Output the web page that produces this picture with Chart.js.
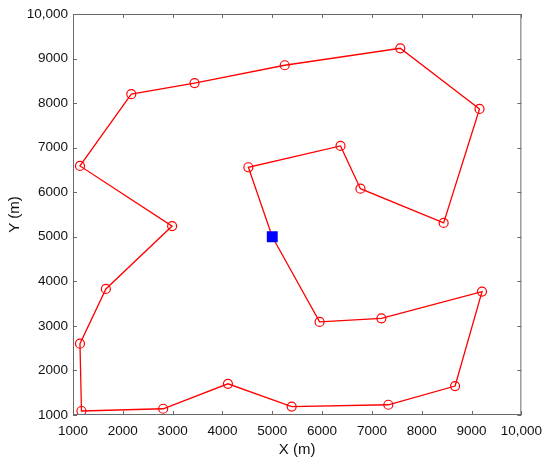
<!DOCTYPE html>
<html>
<head>
<meta charset="utf-8">
<script src="https://cdn.jsdelivr.net/npm/chart.js@4.4.1/dist/chart.umd.min.js"></script>
<style>
  html, body { margin: 0; padding: 0; background: #fff; }
  #wrap { width: 550px; height: 464px; }
</style>
</head>
<body>
<div id="wrap"><canvas id="chart" width="550" height="464"></canvas></div>
<script>
// route: depot -> customers -> back to depot
const depotX = [5000];
const depotY = [5000];

const routeX = [5000, 5950, 7190, 9210, 8670, 7330, 5390, 4110, 2810, 1170, 1140, 1660, 2990,
                1140, 2170, 3440, 5250, 7570, 9160, 8440, 6770, 6370, 4520, 5000];
const routeY = [5000, 3090, 3170, 3770, 1650, 1230, 1190, 1700, 1140, 1090, 2600, 3830, 5240,
                6590, 8200, 8450, 8850, 9230, 7870, 5310, 6080, 7040, 6560, 5000];

const tickValues = [1000, 2000, 3000, 4000, 5000, 6000, 7000, 8000, 9000, 10000];
const tickLabels = ['1000', '2000', '3000', '4000', '5000', '6000', '7000', '8000', '9000', '10,000'];

const routePts = routeX.map((x, i) => ({ x: x, y: routeY[i] }));
const depotPts = depotX.map((x, i) => ({ x: x, y: depotY[i] }));
// no circle on the depot itself
const routeRadius = routeX.map((x, i) => (i === 0 || i === routeX.length - 1) ? 0 : 4.5);

const FONT = 'Liberation Sans, Arial, sans-serif';
const FRAME = '#6a6a6a';

function labelFor(v) {
    const i = tickValues.indexOf(v);
    return i >= 0 ? tickLabels[i] : '';
}

// box round the plot with short ticks pointing inward
const framePlugin = {
    id: 'frame',
    afterDraw(chart) {
        const { ctx, chartArea: a, scales } = chart;
        ctx.save();
        ctx.strokeStyle = FRAME;
        ctx.lineWidth = 1;
        ctx.strokeRect(a.left + 0.5, a.top + 0.5, a.right - a.left - 1, a.bottom - a.top - 1);
        const len = 4;
        ctx.beginPath();
        tickValues.forEach(v => {
            const px = Math.round(scales.x.getPixelForValue(v)) + 0.5;
            ctx.moveTo(px, a.bottom); ctx.lineTo(px, a.bottom - len);
            ctx.moveTo(px, a.top); ctx.lineTo(px, a.top + len);
            const py = Math.round(scales.y.getPixelForValue(v)) + 0.5;
            ctx.moveTo(a.left, py); ctx.lineTo(a.left + len, py);
            ctx.moveTo(a.right, py); ctx.lineTo(a.right - len, py);
        });
        ctx.stroke();
        ctx.restore();
    }
};

new Chart(document.getElementById('chart'), {
    type: 'scatter',
    data: {
        datasets: [
            {
                label: 'Depot',
                data: depotPts,
                pointStyle: 'rect',
                pointRadius: 7.7,
                backgroundColor: '#0000ff',
                borderColor: '#0000ff',
                borderWidth: 0
            },
            {
                label: 'Route',
                data: routePts,
                showLine: true,
                borderColor: '#ff0000',
                borderWidth: 1.3,
                backgroundColor: 'rgba(0,0,0,0)',
                pointStyle: 'circle',
                pointRadius: routeRadius,
                pointBorderColor: '#ff0000',
                pointBorderWidth: 1.2,
                pointBackgroundColor: 'rgba(0,0,0,0)',
                tension: 0
            }
        ]
    },
    options: {
        responsive: false,
        animation: false,
        devicePixelRatio: 1,
        layout: { padding: { left: 2, right: 28, top: 14, bottom: 0 } },
        plugins: { legend: { display: false }, tooltip: { enabled: false } },
        scales: {
            x: {
                type: 'linear',
                min: 1000,
                max: 10000,
                afterFit: s => { s.height = 49; },
                afterBuildTicks: s => { s.ticks = tickValues.map(v => ({ value: v })); },
                grid: { display: false, drawTicks: false },
                border: { display: false },
                ticks: {
                    padding: 8,
                    color: '#111',
                    font: { family: FONT, size: 13.5 },
                    maxRotation: 0,
                    autoSkip: false,
                    callback: v => labelFor(v)
                },
                title: {
                    display: true,
                    text: 'X (m)',
                    color: '#111',
                    font: { family: FONT, size: 15 },
                    padding: { top: 0, bottom: 5 }
                }
            },
            y: {
                type: 'linear',
                min: 1000,
                max: 10000,
                afterFit: s => { s.width = 71; },
                afterBuildTicks: s => { s.ticks = tickValues.map(v => ({ value: v })); },
                grid: { display: false, drawTicks: false },
                border: { display: false },
                ticks: {
                    padding: 5,
                    color: '#111',
                    font: { family: FONT, size: 13.5 },
                    autoSkip: false,
                    callback: v => labelFor(v)
                },
                title: {
                    display: true,
                    text: 'Y (m)',
                    color: '#111',
                    font: { family: FONT, size: 15 },
                    padding: { top: 4, bottom: 0 }
                }
            }
        }
    },
    plugins: [framePlugin]
});
</script>
</body>
</html>
